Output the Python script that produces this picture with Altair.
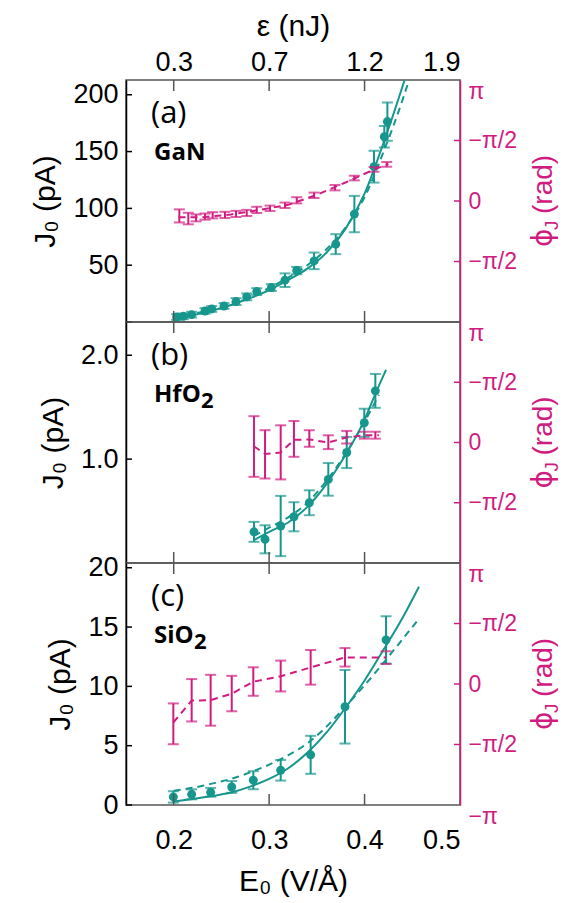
import math
import altair as alt
import pandas as pd

PI = math.pi

# ---------------- data ----------------
# (a) GaN
a_E = [0.2031, 0.2101, 0.2188, 0.2328, 0.2398, 0.2527, 0.2653, 0.2765, 0.2870, 0.3023,
       0.3166, 0.3289, 0.3471, 0.3698, 0.3893, 0.4099, 0.4207, 0.4239]
a_J = [4.4, 5.0, 6.5, 9.7, 11.5, 14.1, 18.0, 22.1, 26.8, 30.3,
       36.8, 45.3, 53.8, 68.5, 95.0, 136.7, 163.1, 176.4]
a_Jerr = [2.5, 2.5, 2.5, 2.5, 2.5, 2.5, 3.0, 3.0, 3.0, 3.0,
          6.0, 3.2, 7.3, 8.8, 16.0, 14.0, 9.5, 16.8]
a_fitE = [0.20, 0.22, 0.24, 0.26, 0.28, 0.30, 0.32, 0.34, 0.36, 0.38, 0.40, 0.42, 0.44, 0.45]
a_fitJ = [3, 6, 10, 15, 21, 28, 37, 47, 61, 82, 113, 158, 208, 235]
a_dfitE = [0.20, 0.22, 0.24, 0.26, 0.28, 0.30, 0.32, 0.34, 0.36, 0.38, 0.40, 0.42, 0.44, 0.45]
a_dfitJ = [3.5, 7, 11, 16, 22, 30, 39, 50, 64, 83, 110, 150, 196, 222]
a_phE = [0.2059, 0.2153, 0.2234, 0.2328, 0.2408, 0.2537, 0.2653, 0.2765, 0.2870, 0.3009,
         0.3166, 0.3289, 0.3471, 0.3690, 0.3893, 0.4099, 0.4232]
a_ph = [-0.387, -0.456, -0.439, -0.405, -0.370, -0.361, -0.336, -0.310, -0.232, -0.189,
        -0.111, 0.018, 0.148, 0.346, 0.596, 0.820, 0.950]
a_pherr = [0.17, 0.15, 0.09, 0.08, 0.08, 0.08, 0.08, 0.08, 0.08, 0.07,
           0.07, 0.08, 0.07, 0.07, 0.06, 0.06, 0.06]
a_phfitE = [0.205, 0.23, 0.26, 0.29, 0.32, 0.35, 0.38, 0.41, 0.425]
a_phfit = [-0.42, -0.42, -0.35, -0.23, -0.10, 0.16, 0.48, 0.82, 0.96]

# (b) HfO2
b_E = [0.2841, 0.2957, 0.3121, 0.3260, 0.3421, 0.3620, 0.3813, 0.3997, 0.4113]
b_J = [0.30, 0.228, 0.356, 0.445, 0.58, 0.805, 1.064, 1.35, 1.657]
b_Jerr = [0.096, 0.135, 0.29, 0.14, 0.12, 0.157, 0.15, 0.135, 0.163]
b_fitE = [0.284, 0.30, 0.32, 0.34, 0.36, 0.38, 0.40, 0.41, 0.4225]
b_fitJ = [0.22, 0.30, 0.39, 0.54, 0.76, 1.04, 1.38, 1.60, 1.86]
b_dfitE = [0.284, 0.30, 0.32, 0.34, 0.36, 0.38, 0.40, 0.415]
b_dfitJ = [0.26, 0.34, 0.44, 0.58, 0.79, 1.05, 1.36, 1.62]
b_phE = [0.2841, 0.2957, 0.3121, 0.3260, 0.3421, 0.3620, 0.3813, 0.3997, 0.4113]
b_ph = [-0.104, -0.309, -0.257, 0.094, 0.104, 0.008, 0.138, 0.19, 0.19]
b_pherr = [0.79, 0.63, 0.705, 0.467, 0.216, 0.18, 0.164, 0.09, 0.09]
b_phfitE = [0.284, 0.296, 0.312, 0.326, 0.342, 0.362, 0.381, 0.40, 0.415]
b_phfit = [-0.10, -0.30, -0.26, 0.07, 0.08, 0.0, 0.13, 0.19, 0.19]

# (c) SiO2
c_E = [0.1996, 0.2188, 0.2387, 0.2608, 0.2834, 0.3121, 0.3435, 0.3795, 0.4225]
c_J = [0.68, 0.90, 1.07, 1.52, 2.09, 2.93, 4.23, 8.28, 13.92]
c_Jerr = [0.48, 0.42, 0.37, 0.5, 0.76, 0.87, 1.6, 3.1, 2.0]
c_fitE = [0.20, 0.22, 0.24, 0.26, 0.28, 0.30, 0.32, 0.34, 0.36, 0.38, 0.40, 0.42, 0.44, 0.457]
c_fitJ = [0.3, 0.5, 0.75, 1.05, 1.55, 2.2, 3.1, 4.4, 6.1, 8.2, 10.5, 13.1, 15.8, 18.4]
c_dfitE = [0.20, 0.22, 0.24, 0.26, 0.28, 0.30, 0.32, 0.34, 0.36, 0.38, 0.40, 0.42, 0.44, 0.455]
c_dfitJ = [1.2, 1.45, 1.8, 2.2, 2.75, 3.4, 4.2, 5.2, 6.6, 8.3, 10.1, 12.0, 14.0, 15.5]
c_phE = [0.1996, 0.2188, 0.2387, 0.2608, 0.2834, 0.3121, 0.3435, 0.3795, 0.4225]
c_ph = [-1.034, -0.422, -0.422, -0.248, 0.064, 0.207, 0.433, 0.693, 0.685]
c_pherr = [0.53, 0.55, 0.66, 0.46, 0.37, 0.40, 0.45, 0.24, 0.165]
c_phfitE = [0.1996, 0.2188, 0.2387, 0.2608, 0.2834, 0.3121, 0.3435, 0.3795, 0.4225]
c_phfit = [-1.0, -0.43, -0.42, -0.25, 0.06, 0.2, 0.43, 0.69, 0.69]

x_ticks = [0.2, 0.3, 0.4]
phase_ticks = [-PI / 2, 0.0, PI / 2]

# ---------------- style ----------------
TEAL = "#16968c"
MAG = "#d01c80"
FRAME = "#555555"
FONT = "Liberation Sans"
W = 334


def panel(H, jdom, jticks, jlabels, jfmt, E, J, Jerr, fE, fJ, dE, dJ,
          pE, P, Perr, pfE, pf, tag, mat, sub, top, bottom, phase_labels):
    xs = alt.Scale(domain=[0.15, 0.5], nice=False, zero=False)
    js = alt.Scale(domain=jdom, nice=False, zero=False)
    ps = alt.Scale(domain=[-PI, PI], nice=False, zero=False)

    pts = pd.DataFrame({"E": E, "J": J, "lo": [j - e for j, e in zip(J, Jerr)],
                        "hi": [j + e for j, e in zip(J, Jerr)]})
    fit = pd.DataFrame({"E": fE, "J": fJ})
    dfit = pd.DataFrame({"E": dE, "J": dJ})
    ph = pd.DataFrame({"E": pE, "P": P, "lo": [p - e for p, e in zip(P, Perr)],
                       "hi": [p + e for p, e in zip(P, Perr)]})
    phf = pd.DataFrame({"E": pfE, "P": pf})
    xt = pd.DataFrame({"v": x_ticks})
    jt = pd.DataFrame({"v": jticks})
    pt = pd.DataFrame({"v": phase_ticks})

    if bottom:
        xaxis = alt.Axis(orient="bottom", values=[0.2, 0.3, 0.4, 0.5], format=".1f",
                         title="E₀ (V/Å)", ticks=False, domain=False, grid=False,
                         labelFontSize=27, labelPadding=22, titleFontSize=30,
                         titleFontWeight="normal", titlePadding=13, labelFont=FONT,
                         titleFont=FONT, labelColor="black", titleColor="black")
    elif top:
        xaxis = alt.Axis(orient="top", values=[0.2, 0.3, 0.4, 0.5],
                         labelExpr="datum.value < 0.25 ? '0.3' : datum.value < 0.35 ? '0.7' : datum.value < 0.45 ? '1.2' : '1.9'",
                         title="ε (nJ)", ticks=False, domain=False, grid=False,
                         labelFontSize=27, labelPadding=4, titleFontSize=30,
                         titleFontWeight="normal", titlePadding=7, labelFont=FONT,
                         titleFont=FONT, labelColor="black", titleColor="black")
    else:
        xaxis = None

    yaxis = alt.Axis(orient="left", values=jlabels, format=jfmt, title="J₀ (pA)",
                     ticks=False, grid=False, domainColor="black", domainWidth=1.5,
                     labelFontSize=27, labelPadding=8, labelFont=FONT, labelColor="black",
                     titleFontSize=30, titleFont=FONT, titleFontWeight="normal",
                     titleColor="black", titlePadding=12)

    paxis = alt.Axis(orient="right", values=phase_labels,
                     labelExpr="datum.value > 3 ? 'π' : datum.value > 1 ? '−π/2' : datum.value > -1 ? '0' : datum.value > -3 ? '−π/2' : '−π'",
                     labelBaseline={"condition": {"test": "abs(datum.value) > 3", "value": "top"},
                                    "value": "middle"},
                     title=None, ticks=False, grid=False, domainColor=MAG, domainWidth=1.5,
                     labelFontSize=23, labelPadding=8, labelFont=FONT, labelColor=MAG)

    def xn(f):
        return alt.X(f, scale=xs, axis=None)

    def yj(f):
        return alt.Y(f, scale=js, axis=None)

    def yp(f):
        return alt.Y(f, scale=ps, axis=None)

    solid = alt.Chart(fit).mark_line(color=TEAL, strokeWidth=2, clip=True, interpolate="monotone").encode(
        x=alt.X("E:Q", scale=xs, axis=xaxis), y=alt.Y("J:Q", scale=js, axis=yaxis))
    dashed = alt.Chart(dfit).mark_line(color=TEAL, strokeWidth=2, strokeDash=[7, 5], clip=True,
                                       interpolate="monotone").encode(
        x=xn("E:Q"), y=yj("J:Q"))
    jbar = alt.Chart(pts).mark_rule(color=TEAL, strokeWidth=2).encode(
        x=xn("E:Q"), y=yj("lo:Q"), y2="hi:Q")
    jcap1 = alt.Chart(pts).mark_tick(color=TEAL, orient="horizontal", size=11, thickness=2).encode(
        x=xn("E:Q"), y=yj("lo:Q"))
    jcap2 = alt.Chart(pts).mark_tick(color=TEAL, orient="horizontal", size=11, thickness=2).encode(
        x=xn("E:Q"), y=yj("hi:Q"))
    jpts = alt.Chart(pts).mark_circle(color=TEAL, size=80, opacity=1).encode(
        x=xn("E:Q"), y=yj("J:Q"))
    lt = alt.Chart(jt).mark_rule(color="black", strokeWidth=1.5).encode(
        y=yj("v:Q"), x=alt.value(0), x2=alt.value(6))
    tt = alt.Chart(xt).mark_rule(color=FRAME, strokeWidth=1.5).encode(
        x=xn("v:Q"), y=alt.value(0), y2=alt.value(11))
    bt = alt.Chart(xt).mark_rule(color=FRAME, strokeWidth=1.5).encode(
        x=xn("v:Q"), y=alt.value(H - 11), y2=alt.value(H))

    pbar = alt.Chart(ph).mark_rule(color=MAG, strokeWidth=2).encode(
        x=xn("E:Q"), y=alt.Y("lo:Q", scale=ps, axis=paxis), y2="hi:Q")
    pcap1 = alt.Chart(ph).mark_tick(color=MAG, orient="horizontal", size=11, thickness=2).encode(
        x=xn("E:Q"), y=yp("lo:Q"))
    pcap2 = alt.Chart(ph).mark_tick(color=MAG, orient="horizontal", size=11, thickness=2).encode(
        x=xn("E:Q"), y=yp("hi:Q"))
    pline = alt.Chart(phf).mark_line(color=MAG, strokeWidth=2, strokeDash=[7, 5]).encode(
        x=xn("E:Q"), y=yp("P:Q"))
    rt = alt.Chart(pt).mark_rule(color=MAG, strokeWidth=1.5).encode(
        y=yp("v:Q"), x=alt.value(W - 6), x2=alt.value(W))

    def txt(s, **kw):
        enc = {k: v for k, v in kw.items() if k in ("x", "y")}
        mk = {k: v for k, v in kw.items() if k not in ("x", "y")}
        return alt.Chart(pd.DataFrame({"t": [s]})).mark_text(**mk).encode(text="t:N", **enc)

    tag_t = txt(tag, align="left", baseline="middle", fontSize=31, font="Open Sans",
                color="black", x=alt.value(25), y=alt.value(34))
    mat_t = txt(mat, align="left", baseline="middle", fontSize=24, font="Open Sans",
                fontWeight="bold", color="black", x=alt.value(28), y=alt.value(73))
    layers = [pbar, solid, dashed, jbar, jcap1, jcap2, jpts, lt, tt, bt, tag_t, mat_t,
              pcap1, pcap2, pline, rt]
    if sub:
        layers.append(txt(sub[0], align="left", baseline="middle", fontSize=22, font="Open Sans",
                          fontWeight="bold", color="black", x=alt.value(28 + sub[1]), y=alt.value(79)))

    layers.append(txt("ϕ", align="left", baseline="middle", angle=270, fontSize=28,
                      font="DejaVu Sans", color=MAG, x=alt.value(W + 84), y=alt.value(H / 2 + 46)))
    layers.append(txt("J", align="left", baseline="middle", angle=270, fontSize=19,
                      font=FONT, color=MAG, x=alt.value(W + 92), y=alt.value(H / 2 + 29)))
    layers.append(txt("(rad)", align="left", baseline="middle", angle=270, fontSize=28,
                      font=FONT, color=MAG, x=alt.value(W + 84), y=alt.value(H / 2 + 13)))

    return (alt.layer(*layers)
            .resolve_scale(y="independent")
            .resolve_axis(x="independent", y="independent")
            .properties(width=W, height=H))


pa = panel(242, [0, 213], [0, 50, 100, 150, 200], [50, 100, 150, 200], "d",
           a_E, a_J, a_Jerr, a_fitE, a_fitJ, a_dfitE, a_dfitJ,
           a_phE, a_ph, a_pherr, a_phfitE, a_phfit, "(a)", "GaN", None,
           True, False, [-PI / 2, 0.0, PI / 2, PI])
pb = panel(241, [0, 2.32], [1.0, 2.0], [1.0, 2.0], ".1f",
           b_E, b_J, b_Jerr, b_fitE, b_fitJ, b_dfitE, b_dfitJ,
           b_phE, b_ph, b_pherr, b_phfitE, b_phfit, "(b)", "HfO", ("2", 47),
           False, False, [-PI / 2, 0.0, PI / 2, PI])
pc = panel(242, [0, 20.4], [0, 5, 10, 15, 20], [0, 5, 10, 15, 20], "d",
           c_E, c_J, c_Jerr, c_fitE, c_fitJ, c_dfitE, c_dfitJ,
           c_phE, c_ph, c_pherr, c_phfitE, c_phfit, "(c)", "SiO", ("2", 40),
           False, True, [-PI, -PI / 2, 0.0, PI / 2, PI])

chart = alt.vconcat(pa, pb, pc, spacing=0, bounds="flush").properties(
    padding={"left": 22, "top": 2, "right": 2, "bottom": 2}
).configure_view(stroke=FRAME, strokeWidth=1.5)

chart.save("out.html", embed_options={"renderer": "svg", "actions": False})
